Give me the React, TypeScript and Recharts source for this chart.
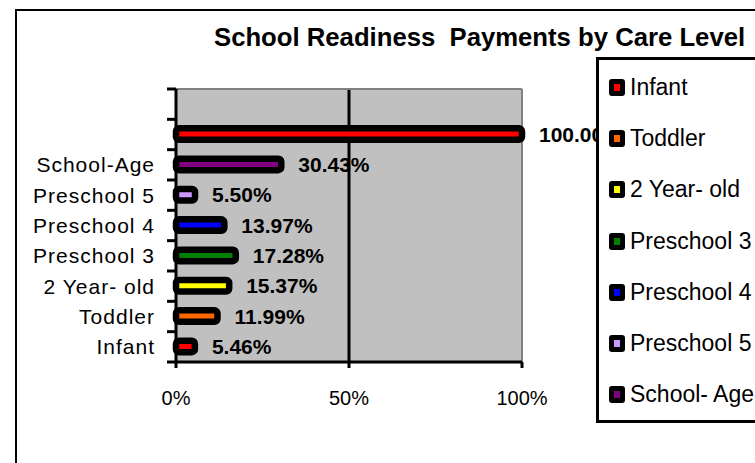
import React from 'react';
import { BarChart, Bar, XAxis, YAxis, CartesianGrid, Cell, LabelList } from 'recharts';

// chart values, bottom to top
const categories = ['Infant', 'Toddler', '2 Year- old', 'Preschool 3', 'Preschool 4', 'Preschool 5', 'School-Age', 'Total', 'Spare'];
const axisLabels = ['Infant', 'Toddler', '2 Year- old', 'Preschool 3', 'Preschool 4', 'Preschool 5', 'School-Age', '', ''];
const shares = [5.46, 11.99, 15.37, 17.28, 13.97, 5.5, 30.43, 100, null];
const barColors = ['#ff0000', '#ff6600', '#ffff00', '#008000', '#0000ff', '#cc99ff', '#800080', '#ff0000', '#ff0000'];

const legendLabels = ['Infant', 'Toddler', '2 Year- old', 'Preschool 3', 'Preschool 4', 'Preschool 5', 'School- Age'];
const legendColors = ['#ff0000', '#ff6600', '#ffff00', '#008000', '#0000ff', '#cc99ff', '#800080'];

const xTicks = [0, 50, 100];

const font = '"Liberation Sans", Arial, sans-serif';

const W = 755;
const H = 463;
const PLOT_TOP = 89;
const PLOT_BOTTOM = 362;
const band = (PLOT_BOTTOM - PLOT_TOP) / categories.length;

const data = categories.map((c, i) => ({ name: c, value: shares[i] }));

const OutlinedBar = (props: any) => {
  const { x, y, width, height, fill } = props;
  if (!width || width <= 0) return null;
  return <rect x={x} y={y} width={width} height={height} rx={3} ry={3} fill={fill} stroke="#000" strokeWidth={6.5} />;
};

const YTick = (props: any) => {
  const { x, y, payload } = props;
  const idx = categories.indexOf(payload.value);
  const isTop = idx === categories.length - 1;
  return (
    <g>
      <text x={x} y={y} textAnchor="end" dominantBaseline="central" fontFamily={font} fontSize={21} letterSpacing={1} fill="#000">
        {axisLabels[idx]}
      </text>
      <line x1={x + 12} x2={x + 21} y1={y + band / 2} y2={y + band / 2} stroke="#000" strokeWidth={3} />
      {isTop && <line x1={x + 12} x2={x + 21} y1={y - band / 2} y2={y - band / 2} stroke="#000" strokeWidth={3} />}
    </g>
  );
};

const XTick = (props: any) => {
  const { x, y, payload } = props;
  return (
    <text x={x} y={y} textAnchor="middle" fontFamily={font} fontSize={20} fill="#000">
      {payload.value}%
    </text>
  );
};

const ValueLabel = (props: any) => {
  const { x, y, width, height, value } = props;
  if (value == null) return null;
  return (
    <text x={x + width + 17} y={y + height / 2} dominantBaseline="central" fontFamily={font} fontWeight="bold" fontSize={21} fill="#000">
      {Number(value).toFixed(2)}%
    </text>
  );
};

const Legendbox = () => (
  <div
    style={{
      position: 'absolute',
      left: 596,
      top: 57,
      width: 220,
      height: 358,
      border: '3px solid #000',
      background: '#fff',
      paddingTop: 1.5,
      boxSizing: 'content-box',
    }}
  >
    {legendLabels.map((l, i) => (
      <div key={l} style={{ height: 51.3, display: 'flex', alignItems: 'center' }}>
        <div
          style={{
            marginLeft: 10,
            width: 6,
            height: 7,
            background: legendColors[i],
            border: '5px solid #000',
            borderRadius: 3,
          }}
        />
        <span style={{ marginLeft: 5, fontFamily: font, fontSize: 23, color: '#000', whiteSpace: 'pre' }}>{l}</span>
      </div>
    ))}
  </div>
);

export default function App() {
  return (
    <div style={{ position: 'absolute', left: 0, top: 0, width: W, height: H, background: '#fff', overflow: 'hidden' }}>
      <div style={{ position: 'absolute', left: 15, top: 9, width: 900, height: 600, border: '2px solid #000' }} />
      <div
        style={{
          position: 'absolute',
          left: 214,
          top: 25.4,
          fontFamily: font,
          fontWeight: 'bold',
          fontSize: 25.7,
          lineHeight: 1,
          whiteSpace: 'pre',
          color: '#000',
        }}
      >
        School Readiness  Payments by Care Level
      </div>
      <div style={{ position: 'absolute', left: 0, top: 0 }}>
        <BarChart width={W} height={H} data={data} layout="vertical" margin={{ top: PLOT_TOP, right: 233, left: 16, bottom: 0 }} barCategoryGap={0}>
          <CartesianGrid
            horizontal={false}
            fill="#c0c0c0"
            stroke="#000"
            strokeWidth={3}
            verticalCoordinatesGenerator={({ xAxis, offset }: any) =>
              xAxis && typeof xAxis.scale === 'function' ? [xAxis.scale(50)] : [offset.left + offset.width / 2]
            }
          />
          <CartesianGrid
            stroke="#808080"
            strokeWidth={2}
            horizontalCoordinatesGenerator={({ offset }: any) => [offset.top]}
            verticalCoordinatesGenerator={({ offset }: any) => [offset.left + offset.width]}
          />
          <XAxis
            type="number"
            domain={[0, 100]}
            ticks={xTicks}
            height={101}
            tickSize={6}
            tickMargin={37}
            tick={<XTick />}
            axisLine={{ stroke: '#000', strokeWidth: 3 }}
            tickLine={{ stroke: '#000', strokeWidth: 3 }}
          />
          <YAxis
            type="category"
            dataKey="name"
            reversed
            width={160}
            tickSize={9}
            tickMargin={12}
            interval={0}
            tick={<YTick />}
            tickLine={false}
            axisLine={{ stroke: '#000', strokeWidth: 3 }}
          />
          <Bar dataKey="value" barSize={11.5} shape={<OutlinedBar />} isAnimationActive={false}>
            {data.map((d, i) => (
              <Cell key={d.name} fill={barColors[i]} />
            ))}
            <LabelList dataKey="value" content={<ValueLabel />} />
          </Bar>
        </BarChart>
      </div>
      <Legendbox />
    </div>
  );
}
